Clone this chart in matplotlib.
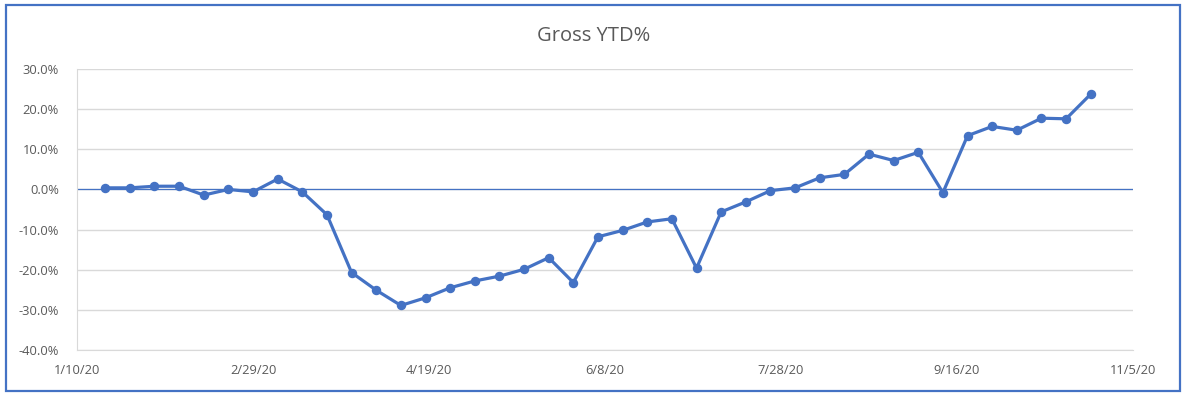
import datetime
import matplotlib
matplotlib.use("Agg")
import matplotlib.pyplot as plt
import matplotlib.dates as mdates
from matplotlib.ticker import FuncFormatter, MultipleLocator
from matplotlib.patches import Rectangle

# weekly gross YTD return (%), one point a week from 1/18/20
start = datetime.date(2020, 1, 18)
ytd = [0.4, 0.4, 0.8, 0.8, -1.4, 0.0, -0.6, 2.6, -0.6, -6.3,
       -20.7, -25.1, -28.9, -27.0, -24.5, -22.8, -21.6, -19.9, -17.0, -23.2,
       -11.8, -10.2, -8.1, -7.3, -19.6, -5.6, -3.1, -0.3, 0.4, 2.9,
       3.75, 8.8, 7.2, 9.25, -0.8, 13.4, 15.7, 14.75, 17.75, 17.6,
       23.75]
dates = [start + datetime.timedelta(days=7 * i) for i in range(len(ytd))]
tick_dates = [datetime.date(2020, 1, 10) + datetime.timedelta(days=50 * i) for i in range(7)]

blue = "#4472C4"
grey = "#595959"
plt.rcParams['font.family'] = ['Open Sans', 'DejaVu Sans']

fig = plt.figure(figsize=(11.87, 3.99), dpi=100)
ax = fig.add_axes([0.0649, 0.1228, 0.8896, 0.7042])

ax.plot(dates, ytd, color=blue, lw=2.3, marker='o', ms=5.8, zorder=3)
ax.axhline(0, color=blue, lw=0.9, zorder=2)

ax.set_xlim(tick_dates[0], tick_dates[-1])
ax.set_ylim(-40, 30)
ax.yaxis.set_major_locator(MultipleLocator(10))
ax.yaxis.set_major_formatter(FuncFormatter(lambda v, p: f"{v:.1f}%"))
ax.set_xticks(tick_dates)
ax.xaxis.set_major_formatter(FuncFormatter(
    lambda v, p: (lambda d: f"{d.month}/{d.day}/{d.strftime('%y')}")(mdates.num2date(v))))

ax.grid(axis='y', color='#D9D9D9', lw=1)
ax.set_axisbelow(True)
for s in ['top', 'right']:
    ax.spines[s].set_visible(False)
ax.spines['left'].set_color('#D9D9D9')
ax.spines['bottom'].set_color('#D9D9D9')
ax.tick_params(length=0, labelsize=9.3, labelcolor=grey)
ax.tick_params(axis='x', pad=10)
ax.tick_params(axis='y', pad=13)

fig.text(0.5, 0.91, "Gross YTD%", ha='center', va='center', fontsize=14.5, color=grey)

fig.patches.append(Rectangle((6 / 1187, 1 - 391 / 399), 1174 / 1187, 386 / 399,
                             transform=fig.transFigure, fill=False, ec=blue, lw=1.6))

fig.savefig("out.png", dpi=100, facecolor='white')
